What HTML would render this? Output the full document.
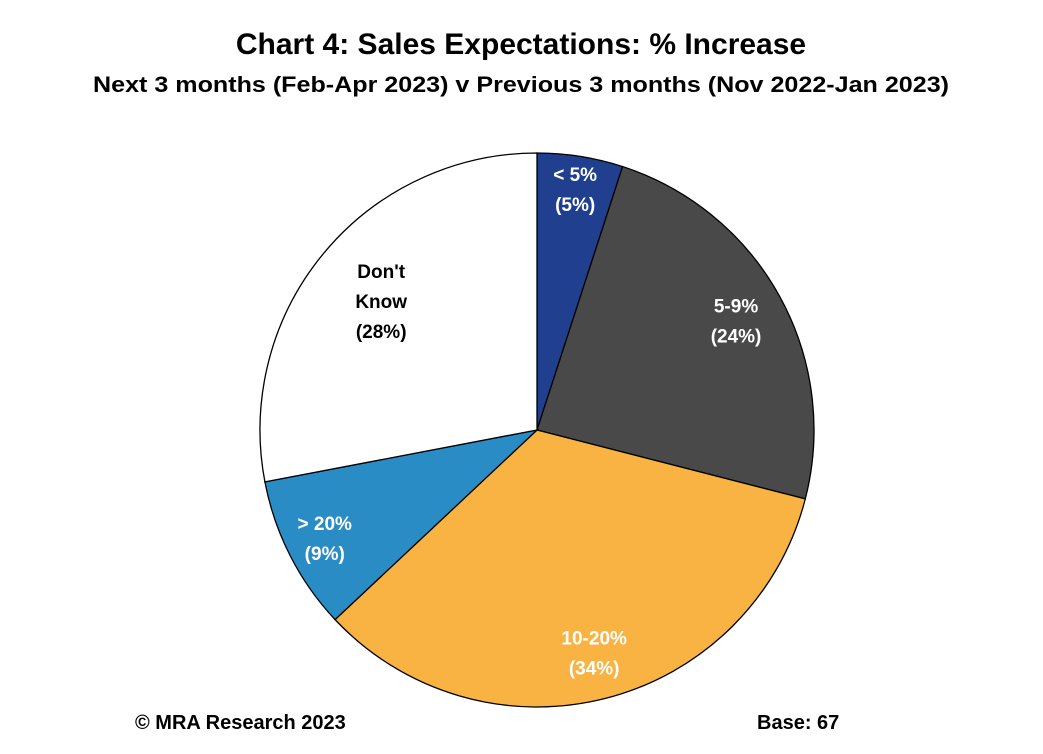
<!DOCTYPE html>
<html><head><meta charset="utf-8"><style>
body{margin:0;background:#fff;width:1043px;height:749px;overflow:hidden;font-family:"Liberation Sans",sans-serif;}
svg text{font-family:"Liberation Sans",sans-serif;font-weight:bold;}
</style></head><body>
<svg width="1043" height="749">
<text x="521" y="54" text-anchor="middle" font-size="30">Chart 4: Sales Expectations: % Increase</text>
<text x="521" y="92" text-anchor="middle" font-size="22.5" textLength="856" lengthAdjust="spacingAndGlyphs">Next 3 months (Feb-Apr 2023) v Previous 3 months (Nov 2022-Jan 2023)</text>
<g id="pie"></g>
<text x="135" y="729" font-size="20">© MRA Research 2023</text>
<text x="757" y="729" font-size="20">Base: 67</text>
</svg>
<script>
const categories=["< 5%","5-9%","10-20%","> 20%","Don't Know"];
const values=[5,24,34,9,28];
const colors=["#203f8e","#494949","#f8b343","#2a8cc4","#ffffff"];
const textColors=["#fff","#fff","#fff","#fff","#000"];
const labelR=[0.88,0.82,0.83,0.86,0.73];
const cx=537,cy=430,R=277;
const g=document.getElementById('pie');
const NS="http://www.w3.org/2000/svg";
const total=values.reduce((a,b)=>a+b,0);
let acc=0;
function pt(f,r){const a=f*2*Math.PI;return [cx+r*Math.sin(a),cy-r*Math.cos(a)];}
values.forEach((v,i)=>{
  const f0=acc/total,f1=(acc+v)/total;acc+=v;
  const p0=pt(f0,R),p1=pt(f1,R);
  const p=document.createElementNS(NS,'path');
  p.setAttribute('d',`M${cx},${cy}L${p0[0]},${p0[1]}A${R},${R} 0 ${f1-f0>0.5?1:0} 1 ${p1[0]},${p1[1]}Z`);
  p.setAttribute('fill',colors[i]);p.setAttribute('stroke','#000');p.setAttribute('stroke-width','1.3');
  
  
  g.appendChild(p);
  const lab=pt((f0+f1)/2,labelR[i]*R);
  const lines=categories[i]==="Don't Know"?["Don't","Know","("+v+"%)"]:[categories[i],"("+v+"%)"];
  const t=document.createElementNS(NS,'text');
  t.setAttribute('text-anchor','middle');t.setAttribute('font-size','19');t.setAttribute('fill',textColors[i]);
  
  
  const y0=lab[1]-(lines.length-1)*15+7;
  lines.forEach((s,j)=>{const ts=document.createElementNS(NS,'tspan');ts.setAttribute('x',lab[0]);ts.setAttribute('y',y0+j*30);ts.textContent=s;t.appendChild(ts);});
  g.appendChild(t);
});
</script>
</body></html>
